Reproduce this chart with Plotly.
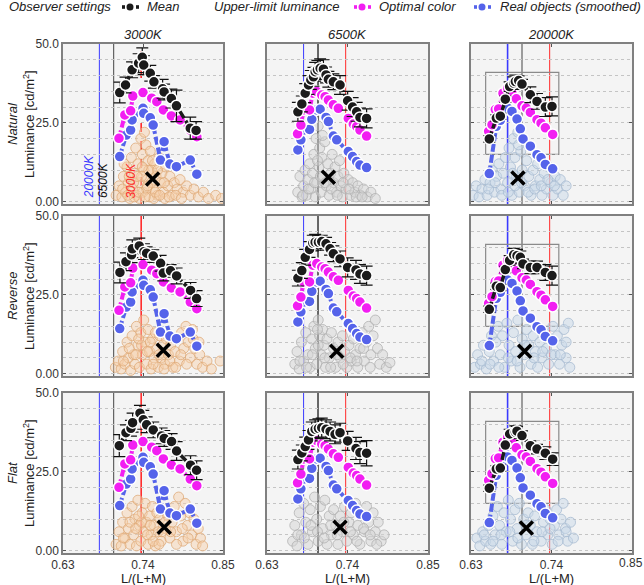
import plotly.graph_objects as go

FONT = "Liberation Sans, Arial, sans-serif"
W, H = 644, 585

# ---------------- labels / ticks ----------------
col_titles = ["3000K", "6500K", "20000K"]
row_titles = ["Natural", "Reverse", "Flat"]
x_ticks = [0.63, 0.74, 0.85]
x_tick_labels = ["0.63", "0.74", "0.85"]
y_ticks = [0, 25, 50]
y_tick_labels = ["0.00", "25.0", "50.0"]
illum_names = ["20000K", "6500K", "3000K"]
illum_x = [0.680, 0.6997, 0.7375]
illum_colors = ["#3a3aff", "#222222", "#ff2a2a"]
box_x = [0.650, 0.750]
box_y = [15.0, 41.0]

# ---------------- upper-limit luminance (same for every observer row) ----------------
opt_x_3000 = [0.707, 0.715, 0.723, 0.726, 0.740, 0.752, 0.759, 0.768, 0.779, 0.791, 0.805, 0.814]
opt_y_3000 = [20.1, 27.5, 28.8, 33.5, 34.6, 32.8, 31.7, 29.1, 27.2, 25.9, 22.7, 20.6]
real_x_3000 = [0.708, 0.717, 0.723, 0.725, 0.740, 0.741, 0.750, 0.754, 0.764, 0.769, 0.777, 0.786, 0.805, 0.814]
real_y_3000 = [14.3, 21.1, 22.7, 25.9, 29.6, 28.0, 26.6, 24.3, 13.2, 19.0, 11.9, 11.1, 13.2, 8.7]

opt_x_6500 = [0.6717, 0.6763, 0.6799, 0.6881, 0.6926, 0.6980, 0.7048, 0.7094, 0.7139, 0.7207, 0.7275, 0.7411, 0.7479, 0.7525, 0.7570, 0.7661]
opt_y_6500 = [21.5, 24.3, 29.1, 29.1, 34.4, 34.9, 33.8, 33.3, 32.2, 30.7, 29.6, 26.4, 24.6, 23.8, 22.7, 20.8]
real_x_6500 = [0.6722, 0.6763, 0.6799, 0.6881, 0.6912, 0.6980, 0.7026, 0.7107, 0.7139, 0.7207, 0.7253, 0.7411, 0.7470, 0.7525, 0.7570, 0.7661]
real_y_6500 = [16.4, 19.6, 22.7, 22.9, 26.1, 29.1, 29.3, 26.7, 25.4, 20.8, 19.6, 15.9, 14.3, 12.7, 11.6, 10.8]

opt_x_20000 = [0.6541, 0.6587, 0.6632, 0.6678, 0.6737, 0.6801, 0.6860, 0.6919, 0.6997, 0.7056, 0.7111, 0.7202, 0.7257, 0.7316, 0.7416]
opt_y_20000 = [22.3, 24.4, 29.2, 29.4, 34.4, 36.0, 34.4, 32.6, 30.4, 29.7, 28.3, 26.0, 24.9, 23.4, 21.3]
real_x_20000 = [0.6550, 0.6646, 0.6701, 0.6801, 0.6860, 0.6929, 0.6974, 0.7011, 0.7111, 0.7202, 0.7257, 0.7316, 0.7416]
real_y_20000 = [8.9, 23.9, 25.8, 29.7, 28.6, 26.2, 23.1, 19.9, 17.6, 14.9, 13.9, 11.8, 10.4]

# ---------------- observer settings (mean +- error) ----------------
mean_x_nat_3000 = [0.708, 0.716, 0.725, 0.734, 0.739, 0.741, 0.750, 0.755, 0.767, 0.769, 0.779, 0.786, 0.805, 0.813]
mean_y_nat_3000 = [34.6, 37.0, 41.8, 43.9, 45.8, 43.3, 40.7, 38.0, 35.8, 34.8, 32.7, 30.4, 23.3, 22.6]
err_nat_3000 = [3.3, 2.5, 2.5, 3.0, 3.0, 3.0, 2.5, 2.0, 3.0, 2.5, 3.0, 5.0, 3.5, 2.8]
mean_x_rev_3000 = [0.7083, 0.7166, 0.7243, 0.7253, 0.7349, 0.7413, 0.7450, 0.7541, 0.7642, 0.7679, 0.7779, 0.7862, 0.8054, 0.8137]
mean_y_rev_3000 = [32.1, 35.5, 37.7, 39.6, 40.5, 38.7, 38.2, 37.3, 35.0, 31.9, 32.6, 31.0, 26.4, 23.8]
err_rev_3000 = [3.3, 2.8, 2.5, 2.8, 2.5, 2.5, 2.0, 2.0, 2.5, 2.5, 2.0, 2.5, 2.5, 2.5]
mean_x_flat_3000 = [0.7074, 0.7166, 0.7234, 0.7257, 0.7358, 0.7404, 0.7450, 0.7541, 0.7656, 0.7692, 0.7793, 0.7862, 0.8054, 0.8137]
mean_y_flat_3000 = [33.3, 37.4, 38.8, 40.6, 43.6, 41.5, 39.9, 38.3, 36.4, 35.6, 34.6, 31.6, 27.1, 25.5]
err_flat_3000 = [3.5, 2.5, 2.5, 3.0, 2.5, 3.0, 2.5, 2.5, 2.5, 2.5, 2.5, 3.0, 3.0, 3.0]

mean_x_nat_6500 = [0.6722, 0.6776, 0.6822, 0.6867, 0.6899, 0.6935, 0.6958, 0.6989, 0.7026, 0.7071, 0.7107, 0.7139, 0.7207, 0.7298, 0.7402, 0.7470, 0.7525, 0.7570, 0.7661]
mean_y_nat_6500 = [28.5, 31.0, 34.4, 37.0, 38.6, 39.6, 41.2, 41.8, 42.3, 42.0, 40.2, 38.8, 38.0, 37.0, 32.0, 30.0, 28.5, 26.7, 26.4]
err_nat_6500 = [3.0, 2.5, 3.0, 3.0, 3.0, 3.0, 3.0, 3.0, 3.0, 3.0, 2.5, 2.5, 2.5, 3.0, 3.0, 3.0, 3.0, 3.0, 3.0]
mean_x_rev_6500 = [0.6722, 0.6776, 0.6822, 0.6881, 0.6926, 0.6958, 0.7003, 0.7048, 0.7107, 0.7162, 0.7207, 0.7298, 0.7402, 0.7516, 0.7570, 0.7661]
mean_y_rev_6500 = [30.3, 32.7, 36.9, 39.4, 41.4, 41.7, 41.7, 41.9, 41.2, 39.6, 38.0, 36.4, 33.7, 32.9, 31.6, 31.1]
err_rev_6500 = [2.5, 2.5, 2.5, 2.5, 2.5, 2.5, 2.0, 2.0, 2.0, 2.0, 2.5, 2.5, 3.0, 3.0, 3.0, 3.0]
mean_x_flat_6500 = [0.6722, 0.6776, 0.6822, 0.6867, 0.6912, 0.6958, 0.7003, 0.7048, 0.7107, 0.7162, 0.7230, 0.7298, 0.7402, 0.7516, 0.7570, 0.7661]
mean_y_flat_6500 = [28.9, 31.0, 33.0, 35.1, 37.8, 38.5, 38.8, 39.0, 38.5, 37.8, 36.9, 37.4, 34.8, 32.4, 31.1, 30.9]
err_flat_6500 = [3.0, 2.5, 3.0, 3.0, 3.0, 3.0, 3.0, 3.0, 3.0, 3.0, 3.0, 3.0, 3.0, 3.5, 3.5, 4.0]

mean_x_nat_20000 = [0.6550, 0.6646, 0.6701, 0.6769, 0.6828, 0.6883, 0.6906, 0.6951, 0.6997, 0.7111, 0.7202, 0.7316, 0.7407]
mean_y_nat_20000 = [19.9, 26.5, 27.1, 32.5, 36.5, 37.6, 38.1, 38.4, 37.3, 33.9, 31.8, 30.0, 30.2]
err_nat_20000 = [1.0, 1.0, 1.0, 1.0, 1.5, 2.0, 2.0, 1.5, 1.5, 2.5, 2.5, 3.0, 3.0]
mean_x_rev_20000 = [0.6550, 0.6646, 0.6701, 0.6769, 0.6828, 0.6883, 0.6929, 0.6974, 0.7011, 0.7111, 0.7202, 0.7316, 0.7407]
mean_y_rev_20000 = [20.4, 27.7, 27.3, 33.0, 35.9, 37.7, 37.4, 36.9, 34.8, 33.7, 33.7, 32.1, 31.1]
err_rev_20000 = [1.0, 1.0, 1.0, 1.0, 1.5, 2.0, 2.0, 2.0, 1.5, 2.0, 2.0, 2.5, 3.0]
mean_x_flat_20000 = [0.6550, 0.6646, 0.6701, 0.6769, 0.6828, 0.6906, 0.6929, 0.6997, 0.7111, 0.7202, 0.7316, 0.7416]
mean_y_flat_20000 = [19.8, 25.9, 26.2, 33.5, 37.0, 37.6, 37.9, 36.5, 33.3, 32.2, 30.9, 29.0]
err_flat_20000 = [1.0, 1.0, 1.0, 1.0, 1.5, 2.0, 1.5, 1.5, 1.5, 1.5, 2.0, 2.0]

# ---------------- real objects (background clouds) ----------------
obj_x_nat_3000 = [0.703, 0.707, 0.711, 0.713, 0.716, 0.718, 0.720, 0.722, 0.724, 0.726, 0.728, 0.730, 0.731, 0.733, 0.735, 0.737, 0.739, 0.740, 0.741, 0.742, 0.744, 0.746, 0.747, 0.749, 0.750, 0.752, 0.754, 0.756, 0.758, 0.760, 0.762, 0.764, 0.766, 0.768, 0.771, 0.774, 0.777, 0.780, 0.783, 0.787, 0.791, 0.795, 0.800, 0.805, 0.810, 0.816, 0.823, 0.830, 0.840, 0.848, 0.735, 0.745, 0.755, 0.738, 0.748, 0.728, 0.760, 0.770,
                  0.712, 0.719, 0.727, 0.734, 0.743, 0.751, 0.757, 0.763, 0.769, 0.776, 0.785, 0.793, 0.732, 0.739, 0.746, 0.753, 0.721, 0.714]
obj_y_nat_3000 = [2, 5, 1.5, 8, 3, 11, 6, 1, 14, 4, 9, 17, 2, 12, 6, 20, 15, 3, 10, 22, 18, 7, 13, 1.5, 16, 10, 4, 12, 8, 2, 14, 6, 9, 3, 11, 5, 8, 2, 6, 4, 7, 3, 5, 2, 4, 1.5, 3, 1, 2, 1, 1, 4, 1, 8, 10, 1.5, 10, 1,
                  4, 2, 6, 3, 1.5, 6, 3, 2, 6, 1.5, 2, 1, 8, 11, 5, 13, 8, 12]
obj_x_rev_3000 = [0.702, 0.706, 0.710, 0.712, 0.715, 0.718, 0.720, 0.723, 0.725, 0.727, 0.729, 0.731, 0.733, 0.735, 0.737, 0.739, 0.741, 0.743, 0.745, 0.747, 0.749, 0.751, 0.753, 0.755, 0.757, 0.759, 0.761, 0.763, 0.765, 0.767, 0.770, 0.772, 0.775, 0.778, 0.781, 0.784, 0.787, 0.790, 0.793, 0.796, 0.799, 0.802, 0.805, 0.808, 0.811, 0.814, 0.818, 0.822, 0.828, 0.834, 0.846,
                  0.713, 0.721, 0.730, 0.738, 0.746, 0.754, 0.762, 0.769, 0.777, 0.785, 0.792, 0.800, 0.809, 0.817, 0.734, 0.750]
obj_y_rev_3000 = [2, 4, 1.5, 7, 3, 10, 5, 1, 12, 6, 3, 15, 9, 2, 13, 6, 17, 10, 3, 14, 7, 1.5, 11, 5, 13, 8, 2, 12, 5, 9, 3, 11, 6, 9, 2, 7, 11, 4, 13, 8, 15, 10, 5, 14, 8, 3, 6, 2, 4, 1.5, 4,
                  4, 8, 6, 9, 7, 3, 6, 1.5, 4, 2, 6, 3, 11, 10, 11, 10]
obj_x_flat_3000 = [0.703, 0.707, 0.710, 0.712, 0.715, 0.718, 0.720, 0.722, 0.725, 0.727, 0.729, 0.731, 0.733, 0.735, 0.737, 0.739, 0.741, 0.743, 0.745, 0.747, 0.749, 0.751, 0.753, 0.755, 0.757, 0.759, 0.761, 0.763, 0.765, 0.768, 0.771, 0.774, 0.777, 0.780, 0.783, 0.786, 0.789, 0.792, 0.795, 0.798, 0.801, 0.804, 0.807, 0.810, 0.813, 0.816, 0.819, 0.822,
                   0.713, 0.722, 0.730, 0.738, 0.746, 0.754, 0.762, 0.770, 0.778, 0.786, 0.794, 0.802, 0.734, 0.750, 0.766]
obj_y_flat_3000 = [2, 6, 1.5, 9, 4, 12, 7, 2, 14, 5, 10, 1.5, 16, 8, 3, 12, 6, 15, 9, 2, 11, 5, 14, 8, 1.5, 12, 6, 10, 3, 13, 7, 11, 4, 9, 14, 6, 17, 11, 3, 15, 8, 12, 5, 10, 2, 7, 4, 1.5,
                   4, 9, 7, 9, 5, 3, 2, 9, 6, 2, 7, 4, 11, 8, 6]

obj_x_nat_6500 = [0.672, 0.675, 0.678, 0.680, 0.682, 0.684, 0.686, 0.688, 0.690, 0.692, 0.694, 0.696, 0.697, 0.698, 0.700, 0.701, 0.702, 0.704, 0.705, 0.707, 0.709, 0.711, 0.713, 0.715, 0.717, 0.719, 0.721, 0.723, 0.725, 0.727, 0.729, 0.731, 0.733, 0.735, 0.738, 0.741, 0.744, 0.747, 0.750, 0.754, 0.758, 0.762, 0.767, 0.772, 0.778,
                  0.679, 0.687, 0.695, 0.703, 0.710, 0.718, 0.726, 0.734, 0.742, 0.752, 0.760, 0.699, 0.706]
obj_y_nat_6500 = [3, 8, 1.5, 5, 10, 2, 7, 12, 4, 9, 15, 1.5, 20, 6, 24, 11, 17, 3, 14, 8, 19, 5, 12, 2, 9, 15, 6, 11, 3, 8, 13, 5, 1.5, 9, 4, 7, 2, 6, 3, 5, 2, 4, 1.5, 3, 1,
                  2, 4, 6, 8, 6, 4, 2, 6, 4, 1.5, 1.5, 13, 21]
obj_x_rev_6500 = [0.668, 0.671, 0.674, 0.677, 0.680, 0.683, 0.686, 0.689, 0.691, 0.694, 0.696, 0.698, 0.700, 0.702, 0.704, 0.706, 0.708, 0.710, 0.712, 0.715, 0.718, 0.721, 0.724, 0.727, 0.730, 0.733, 0.736, 0.739, 0.742, 0.745, 0.748, 0.751, 0.754, 0.757, 0.760, 0.763, 0.766, 0.769, 0.772, 0.775, 0.778, 0.781, 0.784, 0.788, 0.793, 0.798,
                  0.675, 0.684, 0.692, 0.700, 0.709, 0.717, 0.726, 0.734, 0.744, 0.753, 0.762, 0.771, 0.699]
obj_y_rev_6500 = [3, 7, 1.5, 10, 4, 13, 6, 2, 11, 15, 8, 3, 17, 12, 6, 14, 9, 2, 11, 5, 13, 8, 2, 10, 5, 12, 7, 2, 9, 4, 11, 6, 2, 8, 13, 4, 10, 15, 6, 12, 17, 8, 3, 6, 2, 3.5,
                  4, 2, 6, 9, 5, 2, 6, 3, 5, 4, 8, 2, 14]
obj_x_flat_6500 = [0.665, 0.668, 0.671, 0.674, 0.677, 0.680, 0.683, 0.686, 0.689, 0.692, 0.695, 0.698, 0.700, 0.703, 0.706, 0.709, 0.712, 0.715, 0.718, 0.721, 0.724, 0.727, 0.730, 0.733, 0.736, 0.739, 0.742, 0.745, 0.748, 0.751, 0.754, 0.757, 0.760, 0.763, 0.766, 0.769, 0.772, 0.775, 0.778, 0.782, 0.786, 0.790,
                   0.672, 0.681, 0.690, 0.699, 0.708, 0.717, 0.726, 0.735, 0.744, 0.753, 0.762, 0.771, 0.780]
obj_y_flat_6500 = [3, 8, 1.5, 12, 5, 15, 9, 2, 13, 6, 17, 10, 3, 14, 7, 16, 2, 11, 5, 13, 8, 2, 11, 6, 14, 3, 9, 12, 5, 15, 8, 2, 11, 6, 14, 9, 3, 12, 6, 9, 3, 5,
                   5, 4, 8, 6, 4, 8, 5, 9, 6, 3, 7, 5, 2]

obj_x_nat_20000 = [0.633, 0.637, 0.641, 0.645, 0.649, 0.652, 0.656, 0.659, 0.662, 0.665, 0.668, 0.671, 0.674, 0.677, 0.680, 0.682, 0.684, 0.686, 0.688, 0.690, 0.692, 0.694, 0.696, 0.698, 0.700, 0.703, 0.706, 0.709, 0.712, 0.715, 0.718, 0.721, 0.724, 0.727, 0.730, 0.733, 0.736, 0.739, 0.742, 0.745, 0.748, 0.752, 0.756, 0.760,
                   0.654, 0.663, 0.672, 0.681, 0.690, 0.699, 0.708, 0.717, 0.726, 0.735, 0.744, 0.687, 0.695]
obj_y_nat_20000 = [2, 5, 1.5, 4, 7, 2, 6, 10, 3, 8, 12, 4, 9, 14, 6, 17, 11, 2, 20, 14, 8, 22, 3, 16, 10, 5, 13, 8, 2, 10, 5, 12, 7, 2, 9, 4, 11, 6, 2, 8, 4, 7, 2, 5,
                   4, 6, 2, 3, 5, 6, 3, 4, 5, 7, 5, 9, 18]
obj_x_rev_20000 = [0.635, 0.639, 0.643, 0.647, 0.651, 0.655, 0.658, 0.661, 0.664, 0.667, 0.670, 0.673, 0.676, 0.679, 0.682, 0.685, 0.688, 0.691, 0.694, 0.697, 0.700, 0.703, 0.706, 0.709, 0.712, 0.715, 0.718, 0.721, 0.724, 0.727, 0.730, 0.733, 0.736, 0.739, 0.742, 0.745, 0.748, 0.751, 0.754, 0.757, 0.760, 0.763, 0.765,
                   0.645, 0.656, 0.668, 0.681, 0.693, 0.704, 0.716, 0.728, 0.740, 0.752, 0.760]
obj_y_rev_20000 = [2, 6, 3, 9, 1.5, 7, 12, 4, 10, 15, 6, 12, 2, 16, 9, 4, 13, 7, 17, 2, 11, 6, 14, 9, 3, 12, 7, 2, 10, 5, 13, 8, 3, 11, 15, 6, 12, 3, 9, 14, 5, 16, 2,
                   4, 3, 2, 5, 4, 9, 5, 7, 6, 6, 10]
obj_x_flat_20000 = [0.638, 0.642, 0.646, 0.650, 0.654, 0.657, 0.660, 0.663, 0.666, 0.669, 0.672, 0.675, 0.678, 0.681, 0.684, 0.687, 0.690, 0.693, 0.696, 0.699, 0.702, 0.705, 0.708, 0.711, 0.714, 0.717, 0.720, 0.723, 0.726, 0.729, 0.732, 0.735, 0.738, 0.741, 0.744, 0.747, 0.750, 0.753, 0.756, 0.759, 0.762, 0.766, 0.770,
                    0.648, 0.660, 0.671, 0.683, 0.694, 0.705, 0.716, 0.727, 0.738, 0.749, 0.760]
obj_y_flat_20000 = [4, 1.5, 6, 3, 8, 2, 11, 5, 14, 8, 2, 12, 6, 16, 10, 3, 13, 7, 15, 2, 10, 5, 12, 8, 2, 11, 6, 14, 3, 9, 13, 5, 10, 2, 8, 13, 5, 10, 15, 7, 3, 9, 4,
                    5, 3, 5, 6, 4, 8, 3, 6, 7, 3, 6]

# centroid of the real objects (black cross)
cross_x = [[0.7532, 0.7139, 0.6942], [0.7679, 0.7253, 0.7033], [0.7692, 0.7298, 0.7056]]
cross_y = [[7.2, 7.7, 7.5], [7.4, 7.1, 7.1], [7.4, 7.4, 7.2]]

# ---------------- assemble per panel ----------------
opt_series = [(opt_x_3000, opt_y_3000), (opt_x_6500, opt_y_6500), (opt_x_20000, opt_y_20000)]
real_series = [(real_x_3000, real_y_3000), (real_x_6500, real_y_6500), (real_x_20000, real_y_20000)]
mean_series = [
    [(mean_x_nat_3000, mean_y_nat_3000, err_nat_3000), (mean_x_nat_6500, mean_y_nat_6500, err_nat_6500), (mean_x_nat_20000, mean_y_nat_20000, err_nat_20000)],
    [(mean_x_rev_3000, mean_y_rev_3000, err_rev_3000), (mean_x_rev_6500, mean_y_rev_6500, err_rev_6500), (mean_x_rev_20000, mean_y_rev_20000, err_rev_20000)],
    [(mean_x_flat_3000, mean_y_flat_3000, err_flat_3000), (mean_x_flat_6500, mean_y_flat_6500, err_flat_6500), (mean_x_flat_20000, mean_y_flat_20000, err_flat_20000)],
]
obj_series = [
    [(obj_x_nat_3000, obj_y_nat_3000), (obj_x_nat_6500, obj_y_nat_6500), (obj_x_nat_20000, obj_y_nat_20000)],
    [(obj_x_rev_3000, obj_y_rev_3000), (obj_x_rev_6500, obj_y_rev_6500), (obj_x_rev_20000, obj_y_rev_20000)],
    [(obj_x_flat_3000, obj_y_flat_3000), (obj_x_flat_6500, obj_y_flat_6500), (obj_x_flat_20000, obj_y_flat_20000)],
]
cloud_fill = ["rgba(246,206,168,0.45)", "rgba(212,212,212,0.50)", "rgba(200,216,232,0.50)"]
cloud_edge = ["rgba(222,168,118,0.75)", "rgba(175,175,175,0.75)", "rgba(165,185,208,0.75)"]

MEAN_C = "#1b1b1b"
OPT_C = "#f21ef2"
REAL_C = "#5563ea"

col_px = [(63, 223), (267, 428), (471, 632)]
row_px = [(44, 204), (216, 376), (393, 553)]


def px_x(p):
    return p / W


def px_y(p):
    return 1 - p / H


fig = go.Figure()
layout = dict(
    width=W, height=H, margin=dict(l=0, r=0, t=0, b=0, autoexpand=False),
    paper_bgcolor="white", plot_bgcolor="#f4f4f4", showlegend=False,
    font=dict(family=FONT, size=12, color="#222"),
)
shapes = []
annotations = []

for r in range(3):
    for c in range(3):
        i = r * 3 + c + 1
        xa = "x" if i == 1 else f"x{i}"
        ya = "y" if i == 1 else f"y{i}"
        xkey = "xaxis" if i == 1 else f"xaxis{i}"
        ykey = "yaxis" if i == 1 else f"yaxis{i}"
        # the last label of the right-most axis sits on the page edge: drawn as a text below
        tt = x_tick_labels if c < 2 else x_tick_labels[:2] + [""]
        layout[xkey] = dict(
            domain=[px_x(col_px[c][0]), px_x(col_px[c][1])], anchor=ya,
            range=[0.63, 0.85], tickvals=x_ticks, ticktext=tt,
            showticklabels=(r == 2), ticklabeloverflow="allow",
            ticks="inside", ticklen=3, tickcolor="#555", mirror="ticks",
            showline=True, linecolor="#808080", linewidth=1.5,
            showgrid=False, zeroline=False, tickfont=dict(size=12, color="#333"),
        )
        layout[ykey] = dict(
            domain=[px_y(row_px[r][1]), px_y(row_px[r][0])], anchor=xa,
            range=[-0.75, 50], tickvals=y_ticks, ticktext=y_tick_labels,
            showticklabels=(c == 0), ticklabeloverflow="allow",
            ticks="inside", ticklen=3, tickcolor="#555", mirror="ticks",
            showline=True, linecolor="#808080", linewidth=1.5,
            showgrid=True, gridcolor="#c4c4c4", griddash="dot", gridwidth=1,
            minor=dict(dtick=5, tick0=0, showgrid=True, gridcolor="#c4c4c4", griddash="dot", ticklen=0),
            zeroline=False, tickfont=dict(size=12, color="#333"),
        )

        # illuminant reference lines
        for k in range(3):
            emph = (k == 2 - c)
            dash = "dash" if (r == 0 and c == 0 and k == 2) else "solid"
            shapes.append(dict(type="line", xref=xa, yref="paper", layer="below",
                               x0=illum_x[k], x1=illum_x[k],
                               y0=px_y(row_px[r][1]), y1=px_y(row_px[r][0]),
                               line=dict(color=illum_colors[k] if k != 1 else "#444",
                                         width=1.6 if emph else 1, dash=dash)))
        if c == 2:
            shapes.append(dict(type="rect", xref=xa, yref=ya, layer="below",
                               x0=box_x[0], x1=box_x[1], y0=box_y[0], y1=box_y[1],
                               line=dict(color="#8a8a8a", width=1.2)))

        ox, oy = obj_series[r][c]
        fig.add_trace(go.Scatter(x=ox, y=oy, mode="markers", xaxis=xa, yaxis=ya,
                                 marker=dict(size=10, color=cloud_fill[c],
                                             line=dict(color=cloud_edge[c], width=1))))
        fig.add_trace(go.Scatter(x=[cross_x[r][c]], y=[cross_y[r][c]], mode="markers",
                                 xaxis=xa, yaxis=ya,
                                 marker=dict(symbol="x-thin", size=13, color="black",
                                             line=dict(color="black", width=3.5))))
        rx, ry = real_series[c]
        fig.add_trace(go.Scatter(x=rx, y=ry, mode="lines+markers", xaxis=xa, yaxis=ya,
                                 line=dict(color=REAL_C, width=4, dash="8px,3px"),
                                 marker=dict(size=11, color=REAL_C, line=dict(color="white", width=1.5))))
        px_, py_ = opt_series[c]
        fig.add_trace(go.Scatter(x=px_, y=py_, mode="lines+markers", xaxis=xa, yaxis=ya,
                                 line=dict(color=OPT_C, width=4, dash="8px,3px"),
                                 marker=dict(size=11, color=OPT_C, line=dict(color="white", width=1.5))))
        mx, my, me = mean_series[r][c]
        fig.add_trace(go.Scatter(x=mx, y=my, mode="lines+markers", xaxis=xa, yaxis=ya,
                                 error_y=dict(type="data", array=me, visible=True,
                                              color="#111", thickness=1.2, width=6),
                                 line=dict(color=MEAN_C, width=3.5, dash="8px,3px"),
                                 marker=dict(size=11, color=MEAN_C, line=dict(color="white", width=1.5))))

# last tick label of the bottom-right axis (at the right edge of the page)
annotations.append(dict(x=px_x(630.5), y=px_y(563), xref="paper", yref="paper", text=x_tick_labels[2],
                        showarrow=False, xanchor="center", yanchor="middle",
                        font=dict(size=12, color="#333")))

# illuminant labels in the first panel
for k in range(3):
    annotations.append(dict(x=illum_x[k], y=0.4, xref="x", yref="y", text=f"<i>{illum_names[k]}</i>",
                            textangle=-90, showarrow=False, xanchor="right", yanchor="bottom", xshift=-1,
                            font=dict(size=12, color=illum_colors[k] if k != 1 else "#111")))


def pann(x, y, text, size=13, angle=0, xanchor="center"):
    annotations.append(dict(x=px_x(x), y=px_y(y), xref="paper", yref="paper", text=text,
                            textangle=angle, showarrow=False, xanchor=xanchor, yanchor="middle",
                            font=dict(size=size, color="#222")))


# column titles and x titles
for c in range(3):
    cx = (col_px[c][0] + col_px[c][1]) / 2
    pann(cx, 34, f"<i>{col_titles[c]}</i>")
    pann(cx, 578, "L/(L+M)")
# row titles & y titles
for r in range(3):
    cy = (row_px[r][0] + row_px[r][1]) / 2
    pann(12, cy, f"<i>{row_titles[r]}</i>", angle=-90)
    pann(29, cy, "Luminance [cd/m<sup>2</sup>]", angle=-90)

# top legend
legend_texts = [("Observer settings", 7), ("Mean", 145), ("Upper-limit luminance", 212),
                ("Optimal color", 377), ("Real objects (smoothed)", 498)]
for t, x0 in legend_texts:
    pann(x0, 7, f"<i>{t}</i>", xanchor="left")
for cx, col in [(130, MEAN_C), (362, OPT_C), (482, REAL_C)]:
    cy = 7
    for sx in (-8, 6):
        shapes.append(dict(type="rect", xref="paper", yref="paper",
                           x0=px_x(cx + sx), x1=px_x(cx + sx + 3), y0=px_y(cy + 1.8), y1=px_y(cy - 1.8),
                           fillcolor=col, line=dict(width=0)))
    shapes.append(dict(type="circle", xref="paper", yref="paper",
                       x0=px_x(cx - 3.5), x1=px_x(cx + 3.5), y0=px_y(cy + 3.5), y1=px_y(cy - 3.5),
                       fillcolor=col, line=dict(width=0)))

layout["shapes"] = shapes
layout["annotations"] = annotations
fig.update_layout(**layout)
fig.write_html("out.html", config={"displayModeBar": False},
               post_script="document.body.style.margin='0';")
